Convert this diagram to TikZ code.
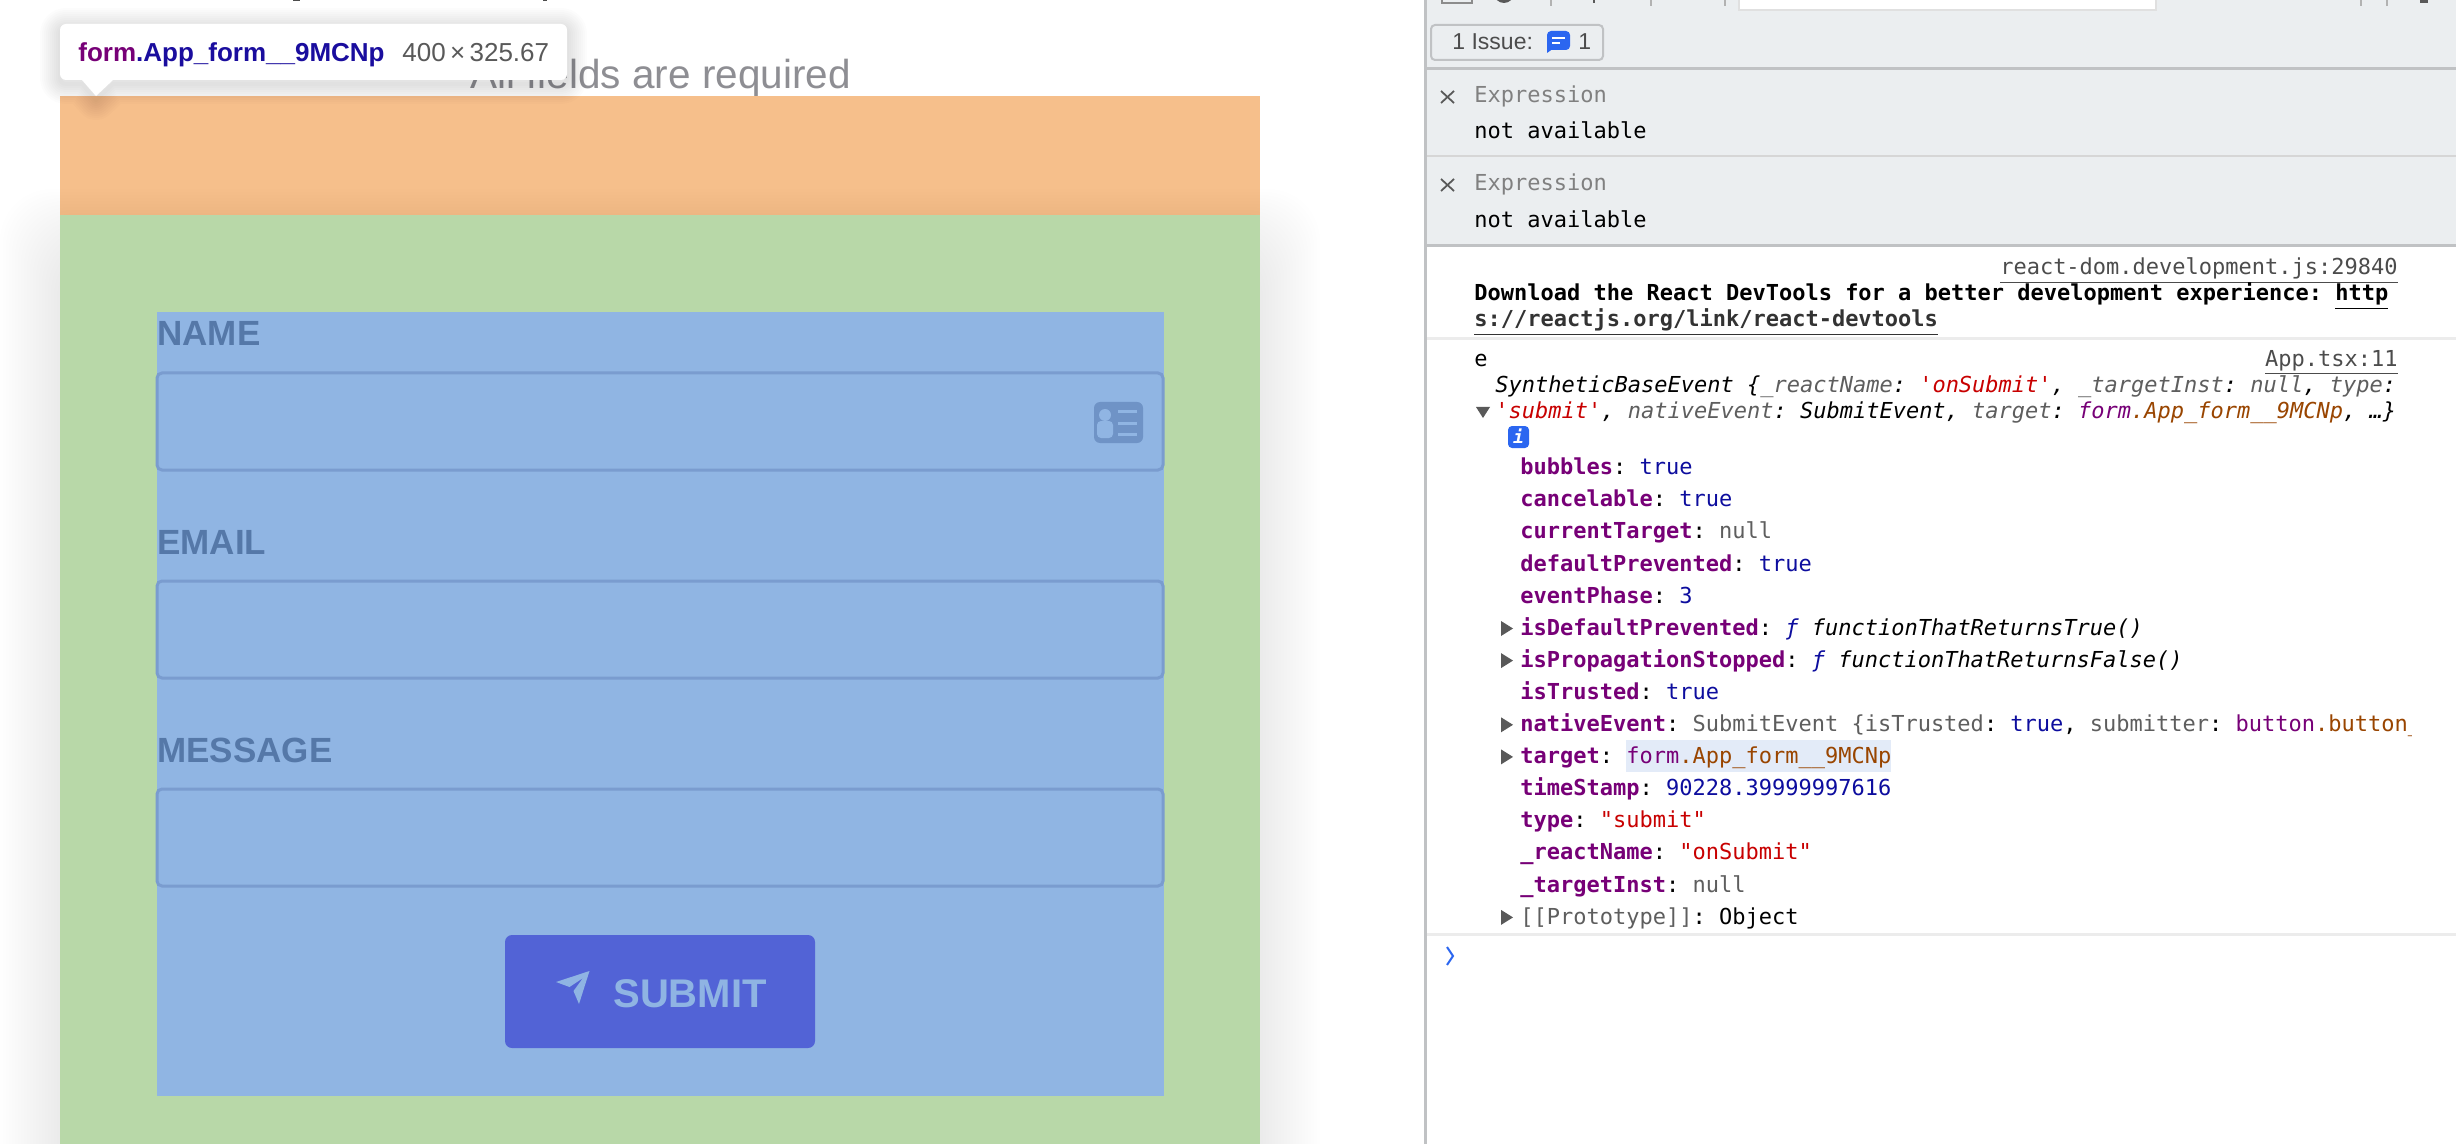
\documentclass[tikz,border=0pt]{standalone}
\usepackage{fontspec}
\setsansfont{Liberation Sans}
\setmonofont{DejaVu Sans Mono}
\definecolor{boxorange}{HTML}{F6BF8B}
\definecolor{boxgreen}{HTML}{B8D8A8}
\definecolor{boxblue}{HTML}{90B5E3}
\definecolor{inputline}{HTML}{7A9CCF}
\definecolor{labelblue}{HTML}{5578A8}
\definecolor{iconblue}{HTML}{6F93C6}
\definecolor{buttonblue}{HTML}{5263D6}
\definecolor{buttontext}{HTML}{8FB4E3}
\definecolor{panelgrey}{HTML}{EBEEF0}
\definecolor{dividergrey}{HTML}{C0C2C4}
\definecolor{sepgrey}{HTML}{ECECEC}
\definecolor{badgeblue}{HTML}{2B66F0}
\definecolor{keypurple}{HTML}{770077}
\definecolor{valblue}{HTML}{0D0D9E}
\definecolor{strred}{HTML}{C80000}
\definecolor{nullgrey}{HTML}{5E5E5E}
\definecolor{clsbrown}{HTML}{994500}
\definecolor{tipblue}{HTML}{1A0D9E}
\definecolor{hintgrey}{HTML}{8E8E93}
\definecolor{hlblue}{HTML}{E3EBF8}
\newcommand{\pname}[1]{\textcolor{keypurple}{\bfseries #1}}
\newcommand{\pval}[1]{\textcolor{valblue}{#1}}
\newcommand{\pstr}[1]{\textcolor{strred}{#1}}
\newcommand{\pnull}[1]{\textcolor{nullgrey}{#1}}
\newcommand{\pcls}[1]{\textcolor{clsbrown}{#1}}
\newcommand{\pfn}[1]{\textit{\textcolor{valblue}{ƒ} #1}}
\tikzset{
  monotext/.style={anchor=base west, inner sep=0pt, font=\ttfamily\fontsize{11}{13}\selectfont},
  monoright/.style={monotext, anchor=base east, text=black!70},
  fieldlabel/.style={anchor=base west, inner sep=0pt, text=labelblue, font=\sffamily\bfseries\fontsize{17.5}{20}\selectfont},
  fieldbox/.style={draw=inputline, line width=1.5pt, rounded corners=2.5pt},
  sepline/.style={line width=1.5pt, sepgrey},
  panelline/.style={line width=1.5pt, dividergrey},
  closemark/.style={line width=0.9pt, black!65},
  rowarrow/.style={fill=black!65},
  stub/.style={line width=1pt, black!45}
}
\begin{document}
\begin{tikzpicture}[x=0.5pt,y=-0.5pt]
\useasboundingbox (0,0) rectangle (2456,1144);
\fill[white] (0,0) rectangle (2456,1144);
% Seite links
\node (hint) [anchor=base west, inner sep=0pt, text=hintgrey, font=\sffamily\fontsize{20.25}{24}\selectfont] at (470,88.5) {All fields are required};
\fill[boxorange] (60,96) rectangle (1260,216);
\begin{scope}
\clip (0,96) rectangle (1425,1144);
\foreach \i in {1,...,20}
  \fill[black,opacity=0.0055,rounded corners=26pt] (60-3*\i,215+34-3*\i) rectangle (1260+3*\i,1300);
\end{scope}
\fill[boxgreen] (60,215) rectangle (1260,1144);
\fill[boxblue] (157,312) rectangle (1164,1096);
\fill[black!70] (293,0) rectangle (300,1);
\fill[black!70] (543,0) rectangle (547,1);
% Formular
\node (nameLabel) [fieldlabel] at (157,346) {NAME};
\node (emailLabel) [fieldlabel] at (157,554) {EMAIL};
\node (messageLabel) [fieldlabel] at (157,762) {MESSAGE};
\draw[fieldbox] (157,373) rectangle (1163,470);
\draw[fieldbox] (157,581) rectangle (1163,678);
\draw[fieldbox] (157,789) rectangle (1163,886);
% Karte
\fill[iconblue,rounded corners=3pt] (1094,402) rectangle (1143,443);
\fill[boxblue] (1105,415) circle (6);
\fill[boxblue,rounded corners=2pt] (1097,438) rectangle (1113,421);
\foreach \liney in {410,422,433}
  \fill[boxblue] (1118,\liney) rectangle (1137,\liney+3);
% Knopf
\fill[buttonblue,rounded corners=3.5pt] (505,935) rectangle (815,1048);
\fill[buttontext] (556,982) -- (589.5,971) -- (579,1004) -- (573.5,991) -- (583,978) -- (569.5,987) -- cycle;
\node (submit) [anchor=base west, inner sep=0pt, text=buttontext, font=\sffamily\bfseries\fontsize{20}{24}\selectfont] at (613,1007) {SUBMIT};
% Tooltip
\def\tippath{(66,24) -- (561,24) to[out=0,in=90] (567,30) -- (567,74) to[out=-90,in=0] (561,80) -- (113,80) -- (96,96) -- (82,80) -- (66,80) to[out=180,in=-90] (60,74) -- (60,30) to[out=90,in=180] (66,24) -- cycle}
\foreach \i in {1,...,10}
  \draw[black,opacity=0.013,line width=\i*2pt,line join=round,yshift=-2pt] \tippath;
\fill[white] \tippath;
\node (tipName) [anchor=base west, inner sep=0pt, font=\sffamily\bfseries\fontsize{13}{15}\selectfont] at (78,62) {\textcolor{keypurple}{form}\textcolor{tipblue}{.App\_form\_\_9MCNp}};
\node (tipSize) [anchor=base west, inner sep=0pt, text=black!65, font=\sffamily\fontsize{13}{15}\selectfont] at (402,62) {400\,×\,325.67};
% Devtools Kopf
\fill[panelgrey] (1425,0) rectangle (2456,246);
\fill[white,draw=black!12,line width=1pt] (1739,-5) rectangle (2156,10);
\draw[stub] (1442,0) -- (1442,3) -- (1472,3) -- (1472,0);
\fill[black!65] (1504,-7) circle (10);
\foreach \stubx in {1551,1651,1725,2361,2387}
  \draw[stub,black!30] (\stubx,0) -- (\stubx,6);
\fill[black!65] (1593,0) rectangle (1595,3);
\fill[black!65] (2420,0) rectangle (2428,3);
\draw[dividergrey,line width=1pt,rounded corners=2pt] (1431,25) rectangle (1603,60);
\node (issue) [anchor=base west, inner sep=0pt, text=black!70, font=\sffamily\fontsize{11.5}{14}\selectfont] at (1452,50) {1 Issue:};
\fill[badgeblue,rounded corners=2pt] (1547,31) rectangle (1570,50);
\fill[badgeblue] (1547,45) -- (1547,53) -- (1554,48) -- cycle;
\fill[white] (1552,37) rectangle (1565,39);
\fill[white] (1552,42) rectangle (1560,44);
\node (issueCount) [anchor=base west, inner sep=0pt, text=black!70, font=\sffamily\fontsize{11.5}{14}\selectfont] at (1578,50) {1};
\draw[panelline] (1425,69) -- (2456,69);
\draw[line width=1pt,black!16] (1425,156) -- (2456,156);
\draw[panelline] (1425,246) -- (2456,246);
\draw[sepline] (1425,339) -- (2456,339);
\draw[sepline] (1425,934) -- (2456,934);
\draw[panelline] (1425.5,0) -- (1425.5,1144);
% Ausdruecke
\draw[closemark] (1441,91) -- (1454,103);
\draw[closemark] (1454,91) -- (1441,103);
\draw[closemark] (1441,179) -- (1454,191);
\draw[closemark] (1454,179) -- (1441,191);
\node (exprOne) [monotext, text=black!50] at (1474,102.5) {Expression};
\node (availOne) [monotext] at (1474,138.5) {not available};
\node (exprTwo) [monotext, text=black!50] at (1474,190.5) {Expression};
\node (availTwo) [monotext] at (1474,227.5) {not available};
% Konsole
\node (srcDom) [monoright] at (2398,275) {\underline{react-dom.development.js:29840}};
\node (hintOne) [monotext] at (1474,301) {\bfseries Download the React DevTools for a better development experience: \underline{http}};
\node (hintTwo) [monotext, text=black!80] at (1474,327) {\bfseries \underline{s://reactjs.org/link/react-devtools}};
\node (srcApp) [monoright] at (2398,366) {\underline{App.tsx:11}};
\node (logName) [monotext] at (1474,366) {e};
\node (eventOne) [monotext] at (1495,392.5) {\textit{SyntheticBaseEvent \{\pnull{\_reactName}: \pstr{'onSubmit'}, \pnull{\_targetInst}: \pnull{null}, \pnull{type}:}};
\node (eventTwo) [monotext] at (1495,418.5) {\textit{\pstr{'submit'}, \pnull{nativeEvent}: SubmitEvent, \pnull{target}: \textcolor{keypurple}{form}\pcls{.App\_form\_\_9MCNp}, …\}}};
\fill[black!65] (1476,407) -- (1490,407) -- (1483,418) -- cycle;
\fill[badgeblue,rounded corners=2pt] (1508,426) rectangle (1529,448);
\node (infoMark) [monotext, anchor=base, text=white, font=\ttfamily\bfseries\itshape\fontsize{9}{11}\selectfont] at (1518.5,444) {i};
% Zeilen
\fill[hlblue] (1626,740) rectangle (1891,772);
\begin{scope}
\clip (1430,450) rectangle (2411,930);
\foreach \rowid/\rowtext in {
  0/{\pname{bubbles}: \pval{true}},
  1/{\pname{cancelable}: \pval{true}},
  2/{\pname{currentTarget}: \pnull{null}},
  3/{\pname{defaultPrevented}: \pval{true}},
  4/{\pname{eventPhase}: \pval{3}},
  5/{\pname{isDefaultPrevented}: \pfn{functionThatReturnsTrue()}},
  6/{\pname{isPropagationStopped}: \pfn{functionThatReturnsFalse()}},
  7/{\pname{isTrusted}: \pval{true}},
  8/{\pname{nativeEvent}: \pnull{SubmitEvent \{isTrusted}: \pval{true}, \pnull{submitter}: \textcolor{keypurple}{button}\pcls{.button\_}},
  9/{\pname{target}: \textcolor{keypurple}{form}\pcls{.App\_form\_\_9MCNp}},
  10/{\pname{timeStamp}: \pval{90228.39999997616}},
  11/{\pname{type}: \pstr{"submit"}},
  12/{\pname{\_reactName}: \pstr{"onSubmit"}},
  13/{\pname{\_targetInst}: \pnull{null}},
  14/{\pnull{[[Prototype]]}: Object}
}{
  \pgfmathsetmacro{\rowy}{474.7+32.1*\rowid}
  \node (row\rowid) [monotext] at (1520,\rowy) {\rowtext};
}
\end{scope}
\foreach \rowid in {5,6,8,9,14}{
  \pgfmathsetmacro{\rowy}{468+32.1*\rowid}
  \fill[rowarrow] (1501,\rowy-7.5) -- (1513,\rowy) -- (1501,\rowy+7.5) -- cycle;
}
\draw[badgeblue,line width=1pt] (1447,947) -- (1453,956) -- (1447,965);
\end{tikzpicture}
\end{document}
